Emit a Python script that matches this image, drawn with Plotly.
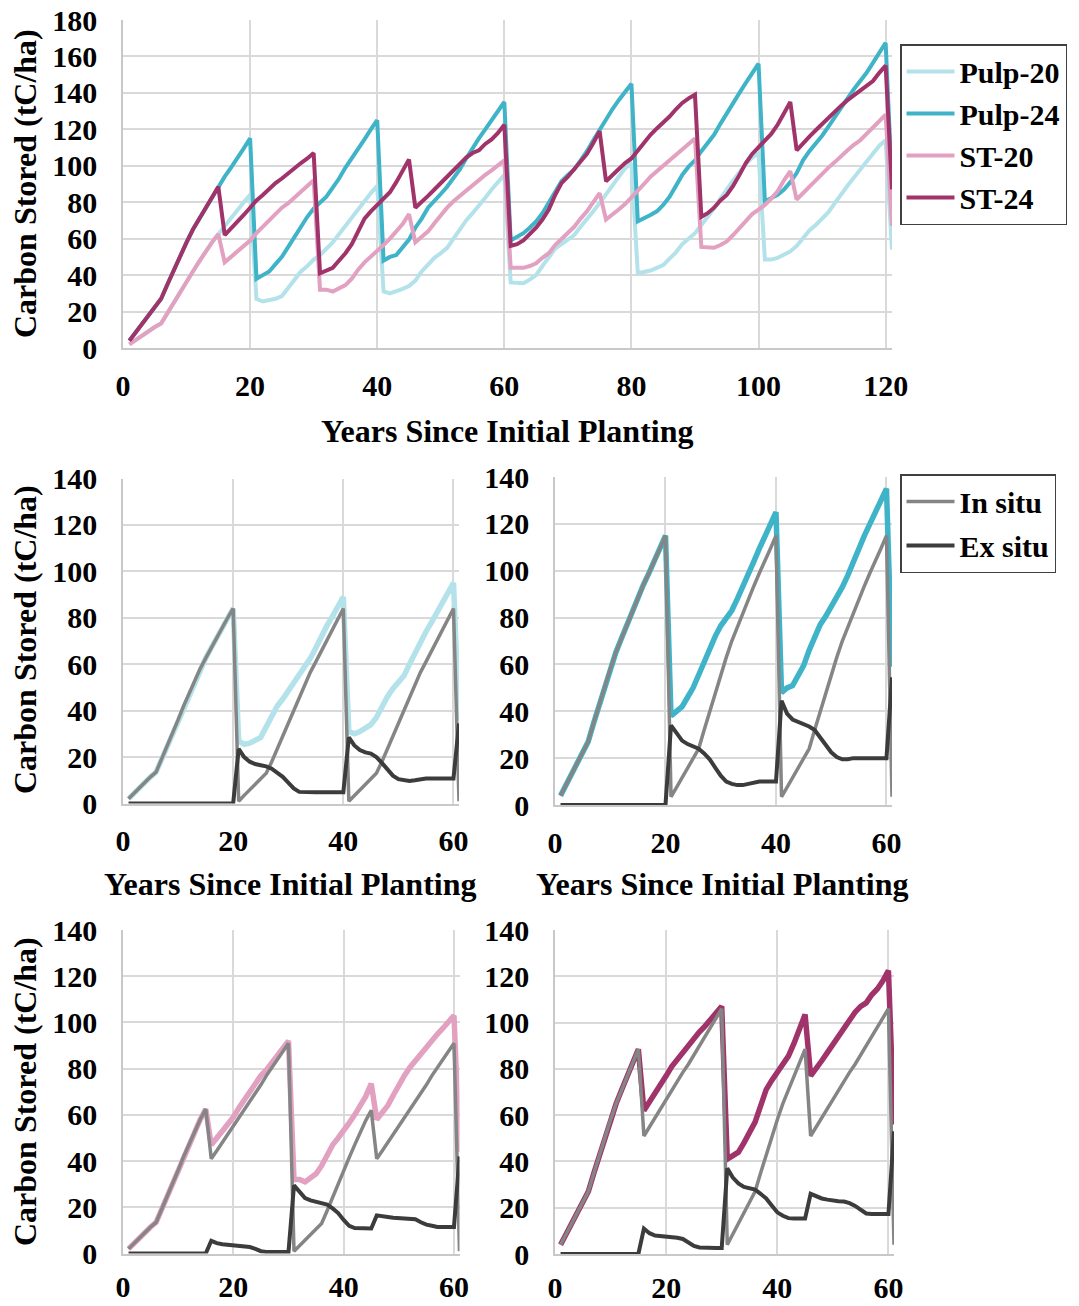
import plotly.graph_objects as go

# ---------------- data (tC/ha), yearly from year 1 ----------------
pulp20_total = [
    2, 4.5, 7, 9.5, 11.5, 13.5, 19, 25, 30.5, 36, 42, 47.5, 53, 58, 62.5, 67, 71.5, 75.5, 80, 84,
    27, 25.5, 26, 27, 28.5, 33, 37.5, 42, 45, 48.5, 51, 54.5, 58, 62.5, 67, 72, 76.5, 80.5, 85, 89,
    31, 30, 31, 32.5, 34, 37, 42, 46, 49.5, 52, 55, 60, 65, 70, 74, 78, 82.5, 87, 91, 95,
    36, 35.5, 35.5, 37.5, 40, 45, 50, 54.5, 57, 59.5, 62, 66.5, 70.5, 75, 79.5, 84.5, 89, 94, 98.5, 101.5,
    41, 41.5, 42.5, 44, 45.5, 49, 52.5, 57, 60, 63, 67.5, 72, 76.5, 82, 87.5, 92, 96.5, 101, 104.5, 107,
    48.5, 48.5, 49.5, 51.5, 53, 56, 60.5, 64.5, 67.5, 71, 74.5, 79.5, 84.5, 89, 93.5, 98, 102.5, 106.5, 111, 114,
    54]

pulp24_total = [
    4, 8.5, 13, 17.5, 22, 27, 35, 43, 51, 58, 65, 71, 77, 83, 88.5, 94, 99, 104, 109.5, 115,
    38, 40, 42, 46, 50, 55.5, 61, 67.5, 72, 76.5, 80, 83, 88, 93, 99, 104, 109.5, 114.5, 120, 125,
    48, 50, 51, 55, 59.5, 66, 71, 77, 80.5, 84.5, 88.5, 93, 98, 104, 110, 115, 120, 125, 130, 135,
    59, 61, 63, 66, 69.5, 74, 79.5, 86, 91.5, 95, 98, 103, 108, 114, 120, 126, 131, 136, 140.5, 145,
    69.5, 71, 73, 75, 78.5, 83, 89, 95, 99.5, 103, 108, 112.5, 117, 123, 129, 134.5, 140, 145.5, 151, 156,
    80.5, 82, 84, 87, 91, 96, 103, 108, 112, 116.5, 121.5, 127, 132, 137, 142, 146.5, 151, 156.5, 162, 167.5,
    89]

st20_total = [
    2, 4.5, 7, 9.5, 11.5, 13.5, 19, 25, 30.5, 36, 42, 47.5, 53, 58, 62.5,
    47, 50, 53, 56, 59, 63, 66.5, 70, 74, 77, 79.5, 82.5, 85.5, 88.5, 92,
    32, 32, 31, 32.5, 34.5, 38, 43, 47, 50, 53, 56.5, 60, 64, 68, 73.5,
    58, 61, 64, 68.5, 73, 77, 80.5, 83.5, 86.5, 89.5, 92.5, 95, 97.5, 100.5, 103,
    44, 44, 44, 45, 46.5, 49.5, 52, 56.5, 60, 63, 66.5, 71, 75, 80, 85,
    70.5, 73, 76, 79, 82.5, 86, 90, 94, 97, 100, 103, 106, 109, 112, 115,
    55.5, 55, 55, 56.5, 58.5, 62, 66, 70, 73.5, 76, 78.5, 82, 86, 92, 97,
    81.5, 85, 88.5, 92, 96, 99, 102, 105.5, 108.5, 111.5, 114, 117.5, 121, 125, 128,
    67]

st24_total = [
    4, 8.5, 13, 17.5, 22, 27, 35, 43, 51, 58, 65, 71, 77, 83, 88.5,
    62, 65.5, 69.5, 73, 77, 81, 84, 87.5, 90.5, 93, 96, 98.5, 101.5, 104, 107,
    41, 42.5, 44, 48, 52, 57, 64, 71, 75, 78.5, 82, 85.5, 91, 97, 103.5,
    77, 80, 83.5, 87, 90.5, 94, 98, 101.5, 104.5, 107, 108.5, 112, 114.5, 118, 122.5,
    56, 57, 59, 62.5, 66, 70.5, 76, 84, 90.5, 94, 98, 102.5, 106.5, 112.5, 119,
    91.5, 95, 98.5, 101.5, 104, 108.5, 113, 117, 120.5, 123.5, 127, 131, 134.5, 137, 139,
    72, 74, 77, 81, 84, 89, 95, 101.5, 106.5, 110, 113.5, 117.5, 122.5, 129, 135,
    108.5, 112.5, 116, 119.5, 123, 126.5, 130, 133, 136, 138.5, 141, 143.5, 146.5, 151, 155,
    87]

pulp20_insitu = [
    2, 4.5, 7, 9.5, 11.5, 13.5, 19, 25, 30.5, 36, 42, 47.5, 53, 58, 62.5, 67, 71.5, 75.5, 80, 84,
    1, 3.5, 6, 8.5, 10.5, 13, 18, 23.5, 29, 34.5, 40.5, 46, 51.5, 56.5, 61, 65.5, 70, 74.5, 79, 84,
    1, 3.5, 6, 8.5, 10.5, 13, 18, 23.5, 29, 34.5, 40.5, 46, 51.5, 56.5, 61, 65.5, 70, 74.5, 79, 84,
    1]
pulp20_exsitu = [
    0, 0, 0, 0, 0, 0, 0, 0, 0, 0, 0, 0, 0, 0, 0, 0, 0, 0, 0, 0,
    23.5, 20, 18, 17, 16.5, 16, 15, 13.5, 11.5, 9, 6.5, 5, 4.8, 4.8, 4.8, 4.8, 4.8, 4.8, 4.8, 4.8,
    28.5, 25, 23, 22, 21.5, 20, 17.5, 14.5, 12, 10.5, 10, 9.7, 10, 10.5, 10.8, 10.8, 10.8, 10.8, 10.8, 10.8,
    34.5]

pulp24_insitu = [
    4, 8.5, 13, 17.5, 22, 27, 35, 43, 51, 58, 65, 71, 77, 83, 88.5, 94, 99, 104, 109.5, 115,
    3.5, 7.5, 11.5, 15.5, 19.5, 24, 32, 40, 48, 56, 63, 70, 76, 82, 88, 93.5, 99, 104, 109.5, 115,
    3.5, 7.5, 11.5, 15.5, 19.5, 24, 32, 40, 48, 56, 63, 70, 76, 82, 88, 93.5, 99, 104, 109.5, 115,
    3.5]
pulp24_exsitu = [
    0, 0, 0, 0, 0, 0, 0, 0, 0, 0, 0, 0, 0, 0, 0, 0, 0, 0, 0, 0,
    34, 30.5, 27.5, 26, 25, 24, 22, 19.5, 16, 12.5, 10, 9, 8.5, 8.5, 9, 9.5, 10, 10, 10, 10,
    44.5, 39, 36.5, 35.5, 34.5, 33.5, 32, 29, 26, 22.5, 20.5, 19.5, 19.5, 20, 20, 20, 20, 20, 20, 20,
    54.5]

st20_insitu = [
    2, 4.5, 7, 9.5, 11.5, 13.5, 19, 25, 30.5, 36, 42, 47.5, 53, 58, 62.5,
    41, 44.5, 48, 51.5, 55, 58.5, 62, 66, 69.5, 73, 77, 80.5, 84, 87.5, 91,
    1, 3.5, 6, 8.5, 10.5, 13, 18.5, 24.5, 30, 35.5, 41.5, 47, 52.5, 57.5, 62,
    41, 44.5, 48, 51.5, 55, 58.5, 62, 66, 69.5, 73, 77, 80.5, 84, 87.5, 91,
    1]
st20_exsitu = [
    0, 0, 0, 0, 0, 0, 0, 0, 0, 0, 0, 0, 0, 0, 0,
    5.5, 4.5, 4, 3.8, 3.6, 3.5, 3.2, 2.8, 2, 1, 0.7, 0.7, 0.7, 0.7, 0.7,
    29.5, 26.5, 24, 23, 22.5, 22, 21.2, 19.5, 17.5, 14.5, 12, 11, 10.8, 10.8, 10.8,
    16.5, 16, 15.8, 15.5, 15.3, 15.1, 15, 14.8, 13.5, 12.5, 12, 11.5, 11.5, 11.5, 11.5,
    42]

st24_insitu = [
    4, 8.5, 13, 17.5, 22, 27, 35, 43, 51, 58, 65, 71, 77, 83, 88.5,
    51, 55, 59, 63, 66.5, 70.5, 74.5, 78.5, 82, 86, 90, 94, 98, 102, 106,
    4, 8.5, 13, 17.5, 22, 27, 35, 43, 51, 58, 65, 71, 77, 83, 88.5,
    51, 55, 59, 63, 66.5, 70.5, 74.5, 78.5, 82, 86, 90, 94, 98, 102, 106,
    4]
st24_exsitu = [
    0, 0, 0, 0, 0, 0, 0, 0, 0, 0, 0, 0, 0, 0, 0,
    11, 9, 8, 7.8, 7.6, 7.4, 7, 6.5, 5, 3.5, 2.8, 2.6, 2.6, 2.6, 2.6,
    37, 33, 30.5, 29, 28.3, 27.8, 26, 24, 21, 18, 16.5, 15.5, 15.3, 15.3, 15.3,
    26, 24.8, 24, 23.5, 23, 22.8, 22.7, 22, 20.8, 19, 17.5, 17.3, 17.3, 17.3, 17.3,
    53]

x_ticks_top = [0, 20, 40, 60, 80, 100, 120]
x_ticks_small = [0, 20, 40, 60]
y_ticks_top = [0, 20, 40, 60, 80, 100, 120, 140, 160, 180]
y_ticks_small = [0, 20, 40, 60, 80, 100, 120, 140]

x_title = "Years Since Initial Planting"
y_title = "Carbon Stored (tC/ha)"

# ---------------- styles ----------------
C_P20 = "#b3e2ea"
C_P24 = "#3fb3c7"
C_S20 = "#e2a1c0"
C_S24 = "#a0346a"
C_IN = "#858585"
C_EX = "#3c3c3c"

W, H = 1079, 1306
FONT = "Liberation Serif, Times New Roman, serif"


def xd(a, b):
    return [a / W, b / W]


def yd(top, bottom):
    return [1 - bottom / H, 1 - top / H]


def yrs(arr):
    return list(range(1, len(arr) + 1))


fig = go.Figure()

# Top panel
for name, arr, col in [("Pulp-20", pulp20_total, C_P20), ("Pulp-24", pulp24_total, C_P24),
                       ("ST-20", st20_total, C_S20), ("ST-24", st24_total, C_S24)]:
    fig.add_trace(go.Scatter(x=yrs(arr), y=arr, mode="lines", name=name,
                             line=dict(color=col, width=4), xaxis="x", yaxis="y",
                             legend="legend", legendgroup=name))

panels = [
    ("x2", "y2", pulp20_total[:61], pulp20_insitu, pulp20_exsitu, C_P20, False),
    ("x3", "y3", pulp24_total[:61], pulp24_insitu, pulp24_exsitu, C_P24, True),
    ("x4", "y4", st20_total[:61], st20_insitu, st20_exsitu, C_S20, False),
    ("x5", "y5", st24_total[:61], st24_insitu, st24_exsitu, C_S24, False),
]
for xa, ya, tot, ins, exs, col, show in panels:
    fig.add_trace(go.Scatter(x=yrs(tot), y=tot, mode="lines", line=dict(color=col, width=5.5),
                             xaxis=xa, yaxis=ya, showlegend=False))
    fig.add_trace(go.Scatter(x=yrs(ins), y=ins, mode="lines", name="In situ",
                             line=dict(color=C_IN, width=3.5), xaxis=xa, yaxis=ya,
                             showlegend=show, legend="legend2", legendgroup="in"))
    fig.add_trace(go.Scatter(x=yrs(exs), y=exs, mode="lines", name="Ex situ",
                             line=dict(color=C_EX, width=4), xaxis=xa, yaxis=ya,
                             showlegend=show, legend="legend2", legendgroup="ex"))

tickfont = dict(family=FONT, size=30, color="black", weight="bold")
grid = dict(showgrid=True, gridcolor="#d9d9d9", gridwidth=1.5, zeroline=False,
            showline=True, linecolor="#c8c8c8", linewidth=1.5, ticks="",
            tickfont=tickfont, automargin=False)


def xaxis(dom, rng, ticks, anchor, standoff=10):
    return dict(domain=dom, range=rng, tickvals=ticks, anchor=anchor,
                ticklabelstandoff=standoff, **grid)


def yaxis(dom, rng, ticks, anchor):
    return dict(domain=dom, range=rng, tickvals=ticks, anchor=anchor,
                ticklabelstandoff=18, **grid)


legfont = dict(family=FONT, size=30, color="black", weight="bold")
fig.update_layout(
    width=W, height=H,
    margin=dict(l=0, r=0, t=0, b=0, pad=0, autoexpand=False),
    paper_bgcolor="white", plot_bgcolor="white",
    font=dict(family=FONT, color="black"),
    xaxis=xaxis(xd(123, 892), [0, 121], x_ticks_top, "y"),
    yaxis=yaxis(yd(20, 348), [0, 180], y_ticks_top, "x"),
    xaxis2=xaxis(xd(123, 459), [0, 61], x_ticks_small, "y2"),
    yaxis2=yaxis(yd(478.5, 803.5), [0, 140], y_ticks_small, "x2"),
    xaxis3=xaxis(xd(555, 892), [0, 61], x_ticks_small, "y3"),
    yaxis3=yaxis(yd(477, 805), [0, 140], y_ticks_small, "x3"),
    xaxis4=xaxis(xd(123, 459.5), [0, 61], x_ticks_small, "y4", 6),
    yaxis4=yaxis(yd(930, 1253.5), [0, 140], y_ticks_small, "x4"),
    xaxis5=xaxis(xd(555, 894), [0, 61], x_ticks_small, "y5", 6),
    yaxis5=yaxis(yd(930, 1254), [0, 140], y_ticks_small, "x5"),
    legend=dict(x=900 / W, y=1 - 44 / H, xanchor="left", yanchor="top",
                bgcolor="white", bordercolor="#404040", borderwidth=1.5,
                font=legfont, tracegroupgap=0, itemwidth=48),
    legend2=dict(x=900 / W, y=1 - 474 / H, xanchor="left", yanchor="top",
                 bgcolor="white", bordercolor="#404040", borderwidth=1.5,
                 font=legfont, tracegroupgap=2, itemwidth=48),
)

title_font = dict(family=FONT, size=32, color="black", weight="bold")
annos = [
    dict(text=x_title, x=507 / W, y=1 - 431 / H),
    dict(text=x_title, x=290 / W, y=1 - 884 / H),
    dict(text=x_title, x=722 / W, y=1 - 884 / H),
    dict(text=y_title, x=25 / W, y=1 - 184 / H, textangle=-90),
    dict(text=y_title, x=25 / W, y=1 - 640 / H, textangle=-90),
    dict(text=y_title, x=25 / W, y=1 - 1092 / H, textangle=-90),
]
for a in annos:
    fig.add_annotation(xref="paper", yref="paper", xanchor="center", yanchor="middle",
                       showarrow=False, font=title_font, **a)

fig.write_html("out.html", config={"displayModeBar": False},
               post_script="document.body.style.margin='0px';")
